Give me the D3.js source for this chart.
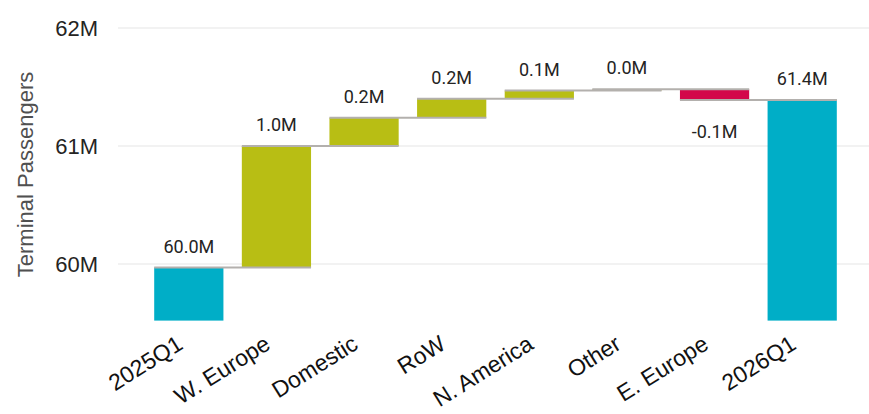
<!DOCTYPE html>
<html>
<head>
<meta charset="utf-8">
<script src="https://cdn.jsdelivr.net/npm/d3@7/dist/d3.min.js"></script>
<style>
  html, body { margin: 0; padding: 0; background: #fff; }
  svg { display: block; }
</style>
</head>
<body>
<svg id="chart" width="869" height="414"></svg>
<script>
// ---- Data ----
const categories = ["2025Q1", "W. Europe", "Domestic", "RoW", "N. America", "Other", "E. Europe", "2026Q1"];
const startValue = 59.97;           // millions
const deltas = [1.03, 0.24, 0.16, 0.07, 0.01, -0.09];  // millions, for W. Europe .. E. Europe
const endValue = 61.39;             // millions
const yTickValues = [60, 61, 62];
const yTickLabels = ["60M", "61M", "62M"];
const yAxisTitle = "Terminal Passengers";

// ---- Build waterfall rows ----
const rows = [];
rows.push({ cat: categories[0], from: 59.52, to: startValue, label: startValue, kind: "total", end: startValue });
let run = startValue;
deltas.forEach((d, i) => {
  const from = run; run = run + d;
  rows.push({ cat: categories[i + 1], from: from, to: run, label: d, kind: d >= 0 ? "up" : "down", end: run });
});
rows.push({ cat: categories[7], from: 59.52, to: endValue, label: endValue, kind: "total", end: endValue });

const colors = { total: "#00aec7", up: "#b8be14", down: "#d3074a" };

const svg = d3.select("#chart");
const x = d3.scaleBand().domain(categories).range([145, 846]).paddingInner(0.21).paddingOuter(0.105);
const y = d3.scaleLinear().domain([59.52, 62]).range([320.6, 28]);

// gridlines
svg.append("g").selectAll("line").data(yTickValues).join("line")
  .attr("x1", 118).attr("x2", 869)
  .attr("y1", d => y(d)).attr("y2", d => y(d))
  .attr("stroke", "#eeeeee").attr("stroke-width", 1.5);

// y tick labels
svg.append("g").selectAll("text").data(yTickValues).join("text")
  .attr("x", 98).attr("y", d => y(d)).attr("dy", "0.36em")
  .attr("text-anchor", "end")
  .attr("font-family", "'Liberation Sans', Arial, sans-serif")
  .attr("font-size", 22).attr("fill", "#252423")
  .text((d, i) => yTickLabels[i]);

// y axis title
svg.append("text")
  .attr("transform", "translate(33,174.5) rotate(-90)")
  .attr("text-anchor", "middle")
  .attr("font-family", "'Liberation Sans', Arial, sans-serif")
  .attr("font-size", 22).attr("fill", "#505050")
  .text(yAxisTitle);

// bars
svg.append("g").selectAll("rect").data(rows).join("rect")
  .attr("x", d => x(d.cat))
  .attr("width", x.bandwidth())
  .attr("y", d => y(Math.max(d.from, d.to)))
  .attr("height", d => Math.abs(y(d.from) - y(d.to)))
  .attr("fill", d => colors[d.kind]);

// connector lines
const conn = rows.slice(0, rows.length - 1).map((d, i) => ({ a: d.cat, b: rows[i + 1].cat, v: d.end }));
conn.push({ a: rows[rows.length - 1].cat, b: rows[rows.length - 1].cat, v: endValue });
svg.append("g").selectAll("line").data(conn).join("line")
  .attr("x1", d => x(d.a)).attr("x2", d => x(d.b) + x.bandwidth())
  .attr("y1", d => y(d.v)).attr("y2", d => y(d.v))
  .attr("stroke", "#b3b0ad").attr("stroke-width", 2);

// data labels
svg.append("g").selectAll("text").data(rows).join("text")
  .attr("x", d => x(d.cat) + x.bandwidth() / 2)
  .attr("y", d => d.kind === "down" ? y(Math.min(d.from, d.to)) + 38 : y(Math.max(d.from, d.to)) - 15)
  .attr("text-anchor", "middle")
  .attr("font-family", "Roboto, sans-serif")
  .attr("font-size", 18).attr("fill", "#252423")
  .text(d => (d.label < 0 ? "-" : "") + Math.abs(d.label).toFixed(1) + "M");

// x labels
svg.append("g").selectAll("text").data(categories).join("text")
  .attr("transform", d => `translate(${x(d) + x.bandwidth() / 2 - 4.5},348) rotate(-32)`)
  .attr("text-anchor", "end")
  .attr("font-family", "'Liberation Sans', Arial, sans-serif")
  .attr("font-size", 23).attr("fill", "#111")
  .text(d => d);
</script>
</body>
</html>
